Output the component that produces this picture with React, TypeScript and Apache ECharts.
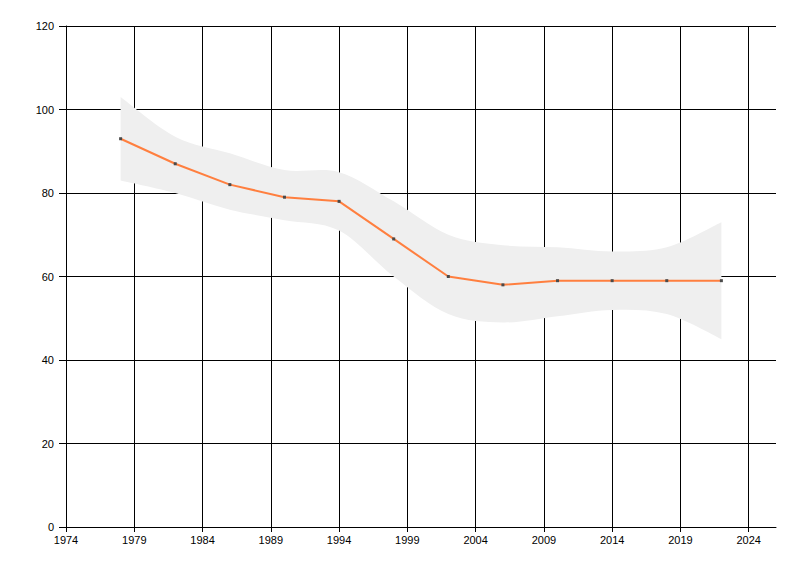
import React, { useEffect, useRef } from "react";
import * as echarts from "echarts";

// ---- data ----
const BASE_YEAR = 1974;
const years = [1978, 1982, 1986, 1990, 1994, 1998, 2002, 2006, 2010, 2014, 2018, 2022];
const values = [93, 87, 82, 79, 78, 69, 60, 58, 59, 59, 59, 59];
const upperBand = [103, 93.5, 89.5, 85.5, 85, 78, 70, 67.5, 67, 66, 67, 73];
const lowerBand = [83, 80, 76, 73.5, 71, 60, 51, 49, 50.5, 52, 51, 45];
const xTickYears = [1974, 1979, 1984, 1989, 1994, 1999, 2004, 2009, 2014, 2019, 2024];
const xMaxYear = 2026;
const yTicks = [0, 20, 40, 60, 80, 100, 120];

const FONT = "'Liberation Sans', Arial, sans-serif";

type Pt = number[];

// Catmull-Rom style cubic segments through the given pixel points
function smoothSegments(pts: Pt[]): string {
  let d = "";
  for (let i = 0; i < pts.length - 1; i++) {
    const p0 = pts[i - 1] || pts[i];
    const p1 = pts[i];
    const p2 = pts[i + 1];
    const p3 = pts[i + 2] || pts[i + 1];
    const c1x = p1[0] + (p2[0] - p0[0]) / 6;
    const c1y = p1[1] + (p2[1] - p0[1]) / 6;
    const c2x = p2[0] - (p3[0] - p1[0]) / 6;
    const c2y = p2[1] - (p3[1] - p1[1]) / 6;
    d += ` C ${c1x} ${c1y} ${c2x} ${c2y} ${p2[0]} ${p2[1]}`;
  }
  return d;
}

export default function App() {
  const ref = useRef<HTMLDivElement>(null);

  useEffect(() => {
    if (!ref.current) return;
    const chart = echarts.init(ref.current, null, { renderer: "svg" });
    const xs = years.map((y) => y - BASE_YEAR);
    const tickVals = xTickYears.map((y) => y - BASE_YEAR);
    const black = "#000000";

    const renderBand = (_params: any, api: any) => {
      const up = xs.map((x, i) => api.coord([x, upperBand[i]]));
      const lo = xs.map((x, i) => api.coord([x, lowerBand[i]])).reverse();
      let d = `M ${up[0][0]} ${up[0][1]}`;
      d += smoothSegments(up);
      d += ` L ${lo[0][0]} ${lo[0][1]}`;
      d += smoothSegments(lo);
      d += " Z";
      return {
        type: "path",
        shape: { pathData: d },
        style: { fill: "#efefef", stroke: null },
        silent: true,
      };
    };

    chart.setOption({
      animation: false,
      backgroundColor: "#ffffff",
      grid: {
        left: 66,
        right: 24,
        top: 26,
        bottom: 49,
        containLabel: false,
        outerBoundsMode: "none",
      },
      xAxis: {
        type: "value",
        min: 0,
        max: xMaxYear - BASE_YEAR,
        interval: 5,
        axisLine: { show: true, onZero: false, lineStyle: { color: black, width: 1 } },
        axisTick: { show: true, length: 5, lineStyle: { color: black, width: 1 }, customValues: tickVals },
        axisLabel: {
          customValues: tickVals,
          formatter: (v: number) => String(v + BASE_YEAR),
          color: black,
          fontSize: 11,
          fontFamily: FONT,
          margin: 7,
        },
        splitLine: { show: true, lineStyle: { color: black, width: 1 } },
      },
      yAxis: {
        type: "value",
        min: yTicks[0],
        max: yTicks[yTicks.length - 1],
        interval: yTicks[1] - yTicks[0],
        axisLine: { show: true, lineStyle: { color: black, width: 1 } },
        axisTick: { show: true, length: 7, lineStyle: { color: black, width: 1 } },
        axisLabel: { color: black, fontSize: 11, fontFamily: FONT, margin: 12 },
        splitLine: { show: true, lineStyle: { color: black, width: 1 } },
      },
      series: [
        {
          name: "band",
          type: "custom",
          renderItem: renderBand,
          clip: false,
          silent: true,
          data: [[xs[0], lowerBand[0]]],
          z: 1,
        },
        {
          name: "value",
          type: "line",
          symbol: "rect",
          symbolSize: 3,
          showAllSymbol: true,
          lineStyle: { color: "#ff7f3f", width: 2 },
          itemStyle: { color: "#4a4a4a" },
          data: xs.map((x, i) => [x, values[i]]),
          z: 3,
        },
      ],
    });

    return () => chart.dispose();
  }, []);

  return (
    <div
      ref={ref}
      style={{ position: "absolute", left: 0, top: 0, width: 800, height: 576 }}
    />
  );
}
